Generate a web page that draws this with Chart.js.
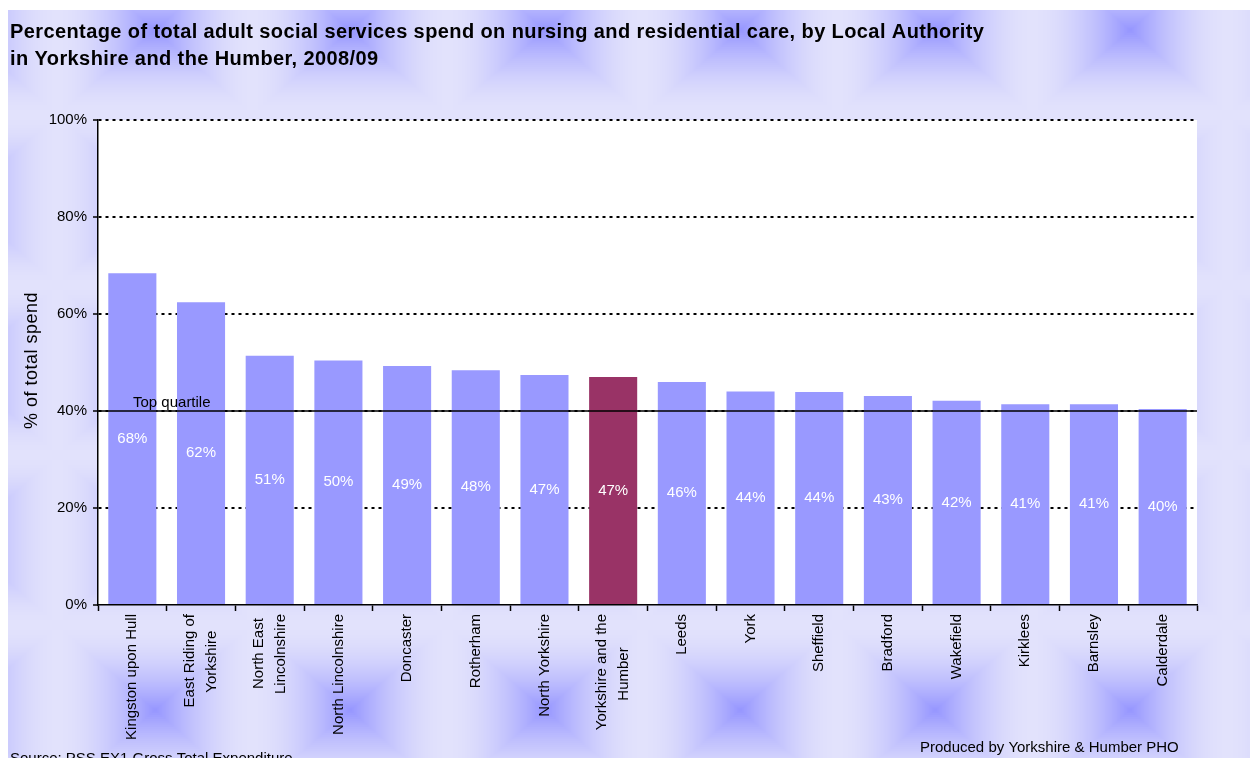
<!DOCTYPE html>
<html>
<head>
<meta charset="utf-8">
<title>Nursing and residential care spend, Yorkshire and the Humber 2008/09</title>
<script src="https://cdn.jsdelivr.net/npm/chart.js@4.4.1/dist/chart.umd.min.js"></script>
<style>
  html, body { margin: 0; padding: 0; background: #ffffff; }
  #wrap { width: 1250px; height: 758px; position: relative; }
</style>
</head>
<body>
<div id="wrap"><canvas id="chart" width="1250" height="758"></canvas></div>
<script>
// Local authorities (multi-line names wrap the way the axis shows them)
const categories = [
  'Kingston upon Hull',
  ['East Riding of', 'Yorkshire'],
  ['North East', 'Lincolnshire'],
  'North Lincolnshire',
  'Doncaster',
  'Rotherham',
  'North Yorkshire',
  ['Yorkshire and the', 'Humber'],
  'Leeds',
  'York',
  'Sheffield',
  'Bradford',
  'Wakefield',
  'Kirklees',
  'Barnsley',
  'Calderdale'
];

// % of total adult social services spend on nursing and residential care
const spendShare = [68.4, 62.4, 51.4, 50.4, 49.3, 48.4, 47.4, 47.0, 46.0, 44.0, 43.9, 43.1, 42.1, 41.4, 41.4, 40.4];

// Regional average is highlighted
const regionName = 'Yorkshire and the Humber';

// Top quartile threshold
const topQuartile = 40;
const topQuartileLabel = 'Top quartile';

// Y axis ticks
const yTicks = [0, 20, 40, 60, 80, 100];

const titleLines = [
  'Percentage of total adult social services spend on nursing and residential care, by Local Authority',
  'in Yorkshire and the Humber, 2008/09'
];
const yAxisTitle = '% of total spend';
const sourceNote = 'Source: PSS EX1 Gross Total Expenditure';
const producerNote = 'Produced by Yorkshire & Humber PHO';

const FONT = "'Liberation Sans', Arial, Helvetica, sans-serif";
const BAR = '#9999FF';
const BAR_REGION = '#993366';
const X_FONT_SIZE = 15;
const X_LINE_HEIGHT = 1.45;

const barColors = categories.map(c => {
  const name = Array.isArray(c) ? c.join(' ') : c;
  return name === regionName ? BAR_REGION : BAR;
});

// Soft "from centre" rectangular gradient tile for the page background
function makeBackgroundPattern(ctx) {
  const w = 195, h = 170;
  const c = document.createElement('canvas');
  c.width = w; c.height = h;
  const g = c.getContext('2d');
  const img = g.createImageData(w, h);
  const edge = [226, 226, 252];
  const centre = [150, 150, 255];
  for (let y = 0; y < h; y++) {
    for (let x = 0; x < w; x++) {
      const dx = Math.abs(x + 0.5 - w / 2) / (w / 2);
      const dy = Math.abs(y + 0.5 - h / 2) / (h / 2);
      const t = Math.max(dx, dy);
      const k = Math.pow(Math.max(0, 1 - t), 1.8);
      const i = (y * w + x) * 4;
      img.data[i]     = Math.round(edge[0] + (centre[0] - edge[0]) * k);
      img.data[i + 1] = Math.round(edge[1] + (centre[1] - edge[1]) * k);
      img.data[i + 2] = Math.round(edge[2] + (centre[2] - edge[2]) * k);
      img.data[i + 3] = 255;
    }
  }
  g.putImageData(img, 0, 0);
  const p = ctx.createPattern(c, 'repeat');
  p.setTransform(new DOMMatrix().translate(155 - w / 2, 30 - h / 2));
  return p;
}

// Pad shorter lines of a wrapped label so the lines sit centred on each other
const measureCtx = document.createElement('canvas').getContext('2d');
function centreLines(label) {
  if (!Array.isArray(label)) return label;
  measureCtx.font = X_FONT_SIZE + 'px ' + FONT;
  const widths = label.map(s => measureCtx.measureText(s).width);
  const maxW = Math.max(...widths);
  const sp = measureCtx.measureText(' ').width;
  return label.map((s, i) => s + ' '.repeat(Math.round((maxW - widths[i]) / 2 / sp)));
}

let bgPattern = null;

const pagePlugin = {
  id: 'page',
  beforeDraw(chart) {
    const { ctx, chartArea: a } = chart;

    // Centre wrapped category labels on their tick
    const xs = chart.scales.x;
    const items = xs.getLabelItems ? xs.getLabelItems(a) : null;
    if (items) {
      items.forEach(it => {
        if (Array.isArray(it.label) && it.label.length > 1 && it.options && it.options.translation) {
          const shift = (it.label.length - 1) * X_FONT_SIZE * X_LINE_HEIGHT / 2;
          it.options.translation[0] -= shift;
        }
      });
    }

    ctx.save();
    ctx.fillStyle = '#ffffff';
    ctx.fillRect(0, 0, chart.width, chart.height);
    if (!bgPattern) bgPattern = makeBackgroundPattern(ctx);
    ctx.fillStyle = bgPattern;
    ctx.fillRect(8, 10, chart.width - 8, chart.height - 10);
    ctx.fillStyle = '#ffffff';
    ctx.fillRect(a.left, a.top, a.right - a.left, a.bottom - a.top);

    // Title
    ctx.fillStyle = '#000000';
    ctx.textAlign = 'left';
    ctx.textBaseline = 'alphabetic';
    ctx.font = 'bold 20px ' + FONT;
    ctx.letterSpacing = '0.4px';
    ctx.fillText(titleLines[0], 10, 38);
    ctx.fillText(titleLines[1], 10, 65);

    // Y axis title
    ctx.save();
    ctx.translate(32, (293 + 428) / 2);
    ctx.rotate(-Math.PI / 2);
    ctx.textAlign = 'center';
    ctx.textBaseline = 'middle';
    ctx.font = '18px ' + FONT;
    ctx.letterSpacing = '0.5px';
    ctx.fillText(yAxisTitle, 0, 0);
    ctx.restore();

    // Footnotes
    ctx.letterSpacing = '0px';
    ctx.font = '15px ' + FONT;
    ctx.textAlign = 'left';
    ctx.fillText(sourceNote, 10, 763);
    ctx.fillText(producerNote, 920, 752);
    ctx.restore();
  },
  afterDatasetsDraw(chart) {
    const { ctx, chartArea: a } = chart;
    const y = chart.scales.y.getPixelForValue(topQuartile);
    ctx.save();
    // Top quartile reference line
    ctx.strokeStyle = '#000000';
    ctx.lineWidth = 1.5;
    ctx.beginPath();
    ctx.moveTo(a.left, y);
    ctx.lineTo(a.right, y);
    ctx.stroke();
    ctx.fillStyle = '#000000';
    ctx.font = '15px ' + FONT;
    ctx.textAlign = 'left';
    ctx.textBaseline = 'alphabetic';
    ctx.fillText(topQuartileLabel, 133, y - 4);

    // Value labels centred in each bar
    const meta = chart.getDatasetMeta(0);
    ctx.fillStyle = '#ffffff';
    ctx.textAlign = 'center';
    ctx.textBaseline = 'middle';
    meta.data.forEach((bar, i) => {
      const v = chart.data.datasets[0].data[i];
      ctx.fillText(Math.round(v) + '%', bar.x, (bar.y + bar.base) / 2);
    });
    ctx.restore();
  }
};

new Chart(document.getElementById('chart'), {
  type: 'bar',
  data: {
    labels: categories.map(centreLines),
    datasets: [{
      data: spendShare,
      backgroundColor: barColors,
      borderWidth: 0,
      barPercentage: 0.7,
      categoryPercentage: 1.0
    }]
  },
  options: {
    responsive: false,
    animation: false,
    events: [],
    layout: { padding: { top: 120, right: 53, left: 0, bottom: 0 } },
    plugins: {
      legend: { display: false },
      title: { display: false },
      tooltip: { enabled: false }
    },
    scales: {
      x: {
        offset: true,
        grid: {
          display: true,
          offset: true,
          drawOnChartArea: false,
          drawTicks: true,
          tickLength: 6,
          tickColor: '#000000',
          tickWidth: 1.5
        },
        border: { display: true, color: '#000000', width: 1.5 },
        ticks: {
          color: '#000000',
          font: { family: FONT, size: X_FONT_SIZE, lineHeight: X_LINE_HEIGHT },
          maxRotation: 90,
          minRotation: 90,
          autoSkip: false,
          padding: 3
        },
        afterFit(scale) { scale.height = 758 - 605; }
      },
      y: {
        min: 0,
        max: 100,
        afterBuildTicks(scale) { scale.ticks = yTicks.map(v => ({ value: v })); },
        grid: {
          color: ctx => (ctx.tick && ctx.tick.value === 0 ? 'rgba(0,0,0,0)' : '#000000'),
          lineWidth: 2,
          drawTicks: true,
          tickLength: 5,
          tickColor: '#000000',
          tickWidth: 1.5
        },
        border: { display: true, color: '#000000', width: 1.5, dash: [3, 4] },
        ticks: {
          color: '#000000',
          font: { family: FONT, size: 15 },
          padding: 6,
          callback: v => v + '%'
        },
        afterFit(scale) { scale.width = 98; }
      }
    }
  },
  plugins: [pagePlugin]
});
</script>
</body>
</html>
